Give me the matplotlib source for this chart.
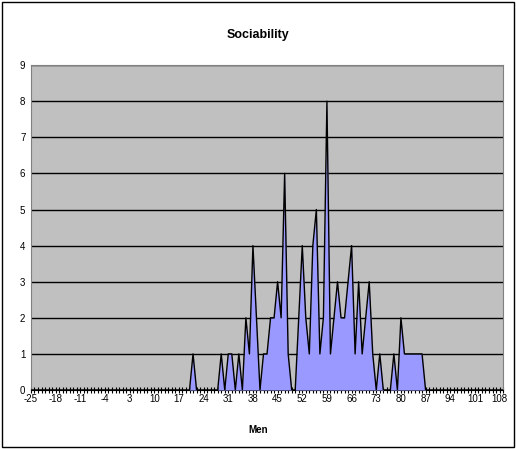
import numpy as np
import matplotlib
matplotlib.use('Agg')
import matplotlib.pyplot as plt
from matplotlib.patches import Rectangle

plt.rcParams['font.family'] = ['Liberation Sans', 'DejaVu Sans']

# category axis runs from -25 to 109 (last one unlabeled)
first_cat = -25
last_cat = 109

# scores that have at least one man (all others are 0)
scores = [21, 29, 31, 32, 34, 36, 37, 38, 39, 41, 42, 43, 44, 45, 46, 47, 48,
          51, 52, 53, 54, 55, 56, 57, 58, 59, 60, 61, 62, 63, 64, 65, 66, 67,
          68, 69, 70, 71, 72, 74, 78, 80, 81, 82, 83, 84, 85, 86]
counts = [1, 1, 1, 1, 1, 2, 1, 4, 2, 1, 1, 2, 2, 3, 2, 6, 1,
          2, 4, 2, 1, 4, 5, 1, 2, 8, 1, 2, 3, 2, 2, 3, 4, 1,
          3, 1, 2, 3, 1, 1, 1, 2, 1, 1, 1, 1, 1, 1]

cats = list(range(first_cat, last_cat + 1))
freq = np.zeros(len(cats))
for s, c in zip(scores, counts):
    freq[cats.index(s)] = c

fig = plt.figure(figsize=(5.16, 4.49), dpi=100)
ax = fig.add_axes([0.060, 0.1314, 0.915, 0.7236])

xs = np.arange(len(cats))
ax.set_facecolor('#c0c0c0')
ax.fill_between(xs, 0, freq, color='#9999ff', linewidth=0, zorder=3)
ax.plot(xs, freq, color='black', linewidth=1, zorder=4)

ax.set_xlim(0, len(cats) - 1)
ax.set_ylim(0, 9)
ax.set_yticks(range(0, 10))
ax.yaxis.grid(True, color='black', linewidth=1)
ax.set_axisbelow(True)

ax.set_xticks(xs[:-1:7])
ax.set_xticklabels([str(c) for c in cats[:-1:7]])
ax.set_xticks(xs, minor=True)
ax.tick_params(axis='x', which='both', direction='inout', length=4, width=0.8, labelsize=7, pad=1)
ax.tick_params(axis='y', which='both', length=0, labelsize=7, pad=4)

for side in ['top', 'right', 'left']:
    ax.spines[side].set_color('#808080')
ax.spines['bottom'].set_color('black')

fig.text(0.5, 0.922, 'Sociability', ha='center', va='center', fontsize=9, fontweight='bold')
fig.text(0.5, 0.042, 'Men', ha='center', va='center', fontsize=7, fontweight='bold')

fig.patches.append(Rectangle((0.004, 0.004), 0.992, 0.992, transform=fig.transFigure,
                             fill=False, edgecolor='black', linewidth=1))

fig.savefig('out.png', dpi=100)
